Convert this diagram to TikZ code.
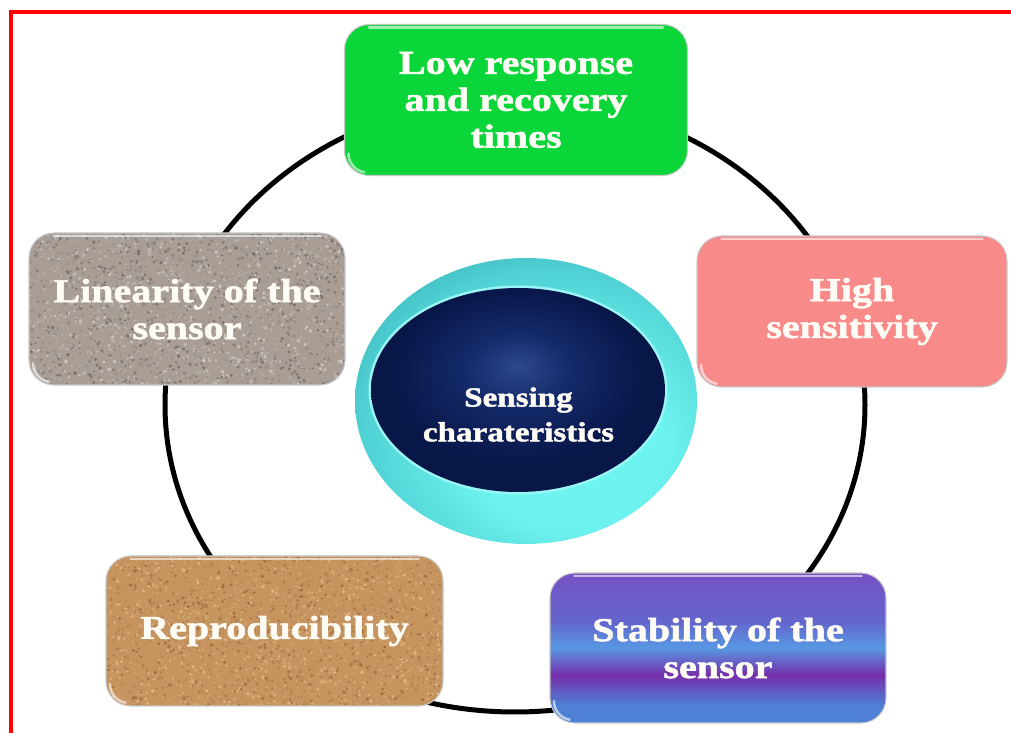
\documentclass[tikz,border=0pt]{standalone}
\usepackage{fontspec}
\setmainfont{Liberation Serif}[FakeStretch=1.2, BoldFeatures={FakeBold=1.6}]
\usetikzlibrary{calc}
\definecolor{frameRed}{RGB}{255,0,0}
\definecolor{grn}{RGB}{10,214,58}
\definecolor{pnk}{RGB}{248,138,138}
\definecolor{pu1}{RGB}{78,128,214}
\definecolor{pu2}{RGB}{118,45,170}
\definecolor{pu3}{RGB}{88,152,226}
\definecolor{pu4}{RGB}{100,100,205}
\definecolor{pu5}{RGB}{118,82,196}
\definecolor{corkB}{RGB}{198,148,94}
\definecolor{corkD}{RGB}{158,108,62}
\definecolor{corkL}{RGB}{226,184,130}
\definecolor{graB}{RGB}{168,158,150}
\definecolor{graD}{RGB}{118,108,102}
\definecolor{graL}{RGB}{208,200,194}
\definecolor{cyL}{RGB}{110,244,240}
\definecolor{cyM}{RGB}{80,210,212}
\definecolor{cyD}{RGB}{42,150,158}
\definecolor{nvL}{RGB}{45,72,140}
\definecolor{nvM}{RGB}{20,42,105}
\definecolor{nvD}{RGB}{8,22,72}
\definecolor{txt}{RGB}{255,252,245}
\pgfdeclareverticalshading{purpbands}{100bp}{color(0bp)=(pu1); color(25bp)=(pu1); color(31bp)=(pu1); color(41bp)=(pu2); color(50bp)=(pu3); color(59bp)=(pu4); color(75bp)=(pu5); color(100bp)=(pu5)}
\pgfdeclareradialshading{cyanball}{\pgfpoint{8bp}{-10bp}}{color(0bp)=(cyL); color(14bp)=(cyL); color(28bp)=(cyM); color(42bp)=(cyD); color(60bp)=(cyD)}
\pgfdeclareradialshading{navyball}{\pgfpoint{0bp}{6bp}}{color(0bp)=(nvL); color(9bp)=(nvM); color(22bp)=(nvD); color(50bp)=(nvD)}
\tikzset{
  box/.style={rounded corners=0.5cm, minimum height=3.02cm, align=center,
    text=txt, font=\fontsize{19}{21}\selectfont\bfseries, inner sep=0pt,
    draw=black!22, line width=0.6pt},
  texture/.style 2 args={path picture={
    \foreach \k in {1,...,3200}{
      \pgfmathsetmacro\tx{rnd}\pgfmathsetmacro\ty{rnd}
      \pgfmathsetmacro\tr{0.01+0.028*rnd}\pgfmathtruncatemacro\tc{100*rnd}
      \fill[#1!\tc!#2] ($(path picture bounding box.south west)+(\tx*7cm,\ty*3.2cm)$) circle (\tr cm);
    }}},
  ring/.style={line width=0.1cm, black},
  gloss/.style={white, opacity=0.6, line width=1.4pt, line cap=round},
}
\begin{document}
\begin{tikzpicture}
\pgfmathsetseed{7}
\useasboundingbox (0,0) rectangle (20.22,14.66);
% frame
\coordinate (fbl) at (0.21,0);
\coordinate (ftl) at (0.21,14.41);
\coordinate (ftr) at (20.22,14.41);
\draw[frameRed, line width=0.08cm] (fbl) -- (ftl) -- (ftr);
% ring
\coordinate (ringc) at (10.30,6.56);
\draw[ring] (ringc) ellipse [x radius=7.0cm, y radius=6.14cm];
% hub
\coordinate (hubc) at (10.52,6.64);
\coordinate (corec) at (10.36,6.86);
\shade[shading=cyanball] (hubc) ellipse [x radius=3.42cm, y radius=2.86cm];
\fill[cyL!70!white] (corec) ellipse [x radius=2.99cm, y radius=2.09cm];
\shade[shading=navyball] (corec) ellipse [x radius=2.94cm, y radius=2.04cm];
\node[text=txt, font=\fontsize{15.7}{19.8}\selectfont\bfseries, align=center] (core) at (10.37,6.37) {Sensing\\charateristics};
% boxes
\node[box, fill=grn, minimum width=6.86cm] (resp) at (10.32,12.66) {Low response\\and recovery\\times};
\node[box, fill=pnk, minimum width=6.2cm] (sens) at (17.04,8.43) {High\\sensitivity};
\node[box, shading=purpbands, minimum width=6.72cm, minimum height=3.0cm] (stab) at (14.36,1.70) {Stability of the\\sensor};
\node[box, fill=corkB, texture={corkD}{corkL}, minimum width=6.74cm, minimum height=3.0cm] (repro) at (5.49,2.04) {Reproducibility};
\node[box, fill=graB, texture={graD}{graL}, minimum width=6.32cm, minimum height=3.04cm] (lin) at (3.74,8.48) {Linearity of the\\sensor};
% gloss highlights
\foreach \b in {resp,sens,stab,repro,lin}{
  \draw[gloss] ($(\b.north west)+(0.5,-0.07)$) -- ($(\b.north east)+(-0.5,-0.07)$);
  \draw[gloss] ($(\b.south west)+(0.09,0.45)$) arc (180:260:0.38);
}
\end{tikzpicture}
\end{document}
